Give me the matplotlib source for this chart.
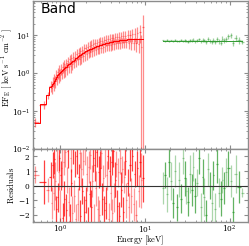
import numpy as np
import matplotlib
matplotlib.use("Agg")
import matplotlib.pyplot as plt
from matplotlib.ticker import LogLocator, MultipleLocator

plt.rcParams['mathtext.fontset'] = 'cm'
plt.rcParams['font.family'] = 'serif'
plt.rcParams['font.serif'] = ['DejaVu Serif']
plt.rcParams['axes.formatter.use_mathtext'] = True

# XRT (red) bins: energy [keV], model, flux, rel. flux error, residual, residual error
red_energy = [0.506, 0.646, 0.72, 0.78, 0.80, 0.82, 0.84, 0.86, 0.88, 0.90,
              0.92, 0.94, 0.96, 0.98, 1.00, 1.02, 1.05, 1.07, 1.10, 1.12,
              1.15, 1.18, 1.21, 1.24, 1.27, 1.30, 1.33, 1.36, 1.40, 1.43,
              1.47, 1.50, 1.54, 1.58, 1.62, 1.66, 1.70, 1.74, 1.78, 1.83,
              1.87, 1.92, 1.97, 2.02, 2.07, 2.12, 2.17, 2.23, 2.28, 2.34,
              2.40, 2.46, 2.52, 2.58, 2.65, 2.71, 2.78, 2.85, 2.92, 3.00,
              3.07, 3.15, 3.23, 3.31, 3.39, 3.48, 3.57, 3.66, 3.75, 3.85,
              3.95, 4.05, 4.15, 4.26, 4.37, 4.48, 4.60, 4.72, 4.85, 4.98,
              5.12, 5.26, 5.41, 5.57, 5.73, 5.90, 6.08, 6.27, 6.47, 6.68,
              6.90, 7.13, 7.37, 7.62, 7.88, 8.15, 8.45, 8.80, 9.10, 9.55]
red_model = [0.05, 0.15, 0.26, 0.42, 0.46, 0.51, 0.56, 0.63, 0.70, 0.77,
             0.85, 0.90, 0.95, 1.00, 1.05, 1.10, 1.17, 1.22, 1.30, 1.35,
             1.42, 1.49, 1.57, 1.64, 1.71, 1.80, 1.88, 1.96, 2.07, 2.16,
             2.27, 2.36, 2.47, 2.59, 2.71, 2.83, 2.95, 3.07, 3.18, 3.31,
             3.41, 3.54, 3.66, 3.78, 3.88, 3.99, 4.10, 4.23, 4.33, 4.45,
             4.56, 4.67, 4.78, 4.88, 5.00, 5.10, 5.21, 5.32, 5.43, 5.55,
             5.64, 5.75, 5.85, 5.95, 6.05, 6.15, 6.25, 6.34, 6.43, 6.52,
             6.61, 6.70, 6.78, 6.86, 6.94, 7.02, 7.10, 7.17, 7.24, 7.31,
             7.38, 7.44, 7.50, 7.56, 7.61, 7.66, 7.71, 7.75, 7.79, 7.82,
             7.85, 7.87, 7.89, 7.90, 7.91, 7.92, 7.92, 7.92, 7.92, 7.92]
red_flux = [0.052, 0.148, 0.26, 0.47, 0.41, 0.60, 0.50, 0.74, 0.62, 0.92,
            0.72, 1.05, 0.80, 1.22, 0.92, 1.30, 1.00, 1.50, 1.12, 1.70,
            1.22, 1.85, 1.35, 2.05, 1.45, 2.30, 1.55, 2.45, 1.72, 2.75,
            1.95, 3.00, 2.10, 3.30, 2.30, 3.45, 2.40, 3.80, 2.60, 4.10,
            2.85, 4.50, 3.00, 4.70, 3.20, 5.00, 3.40, 5.30, 3.60, 5.60,
            3.80, 5.90, 4.00, 6.10, 4.20, 6.40, 4.40, 6.70, 4.60, 7.00,
            4.70, 7.20, 5.00, 7.50, 5.20, 7.70, 5.40, 8.00, 5.50, 8.20,
            5.70, 8.40, 5.80, 8.60, 6.00, 8.80, 6.10, 9.00, 6.30, 9.20,
            6.40, 9.40, 6.50, 9.60, 6.60, 9.80, 6.50, 10.0, 6.40, 10.3,
            6.30, 10.6, 6.20, 11.0, 6.10, 11.5, 6.00, 12.5, 5.00, 17.0]
red_relerr = [0.25, 0.22, 0.20, 0.30, 0.32, 0.30, 0.34, 0.30, 0.33, 0.34,
              0.31, 0.33, 0.30, 0.32, 0.34, 0.31, 0.30, 0.33, 0.32, 0.30,
              0.33, 0.31, 0.34, 0.30, 0.32, 0.30, 0.33, 0.29, 0.31, 0.33,
              0.30, 0.32, 0.30, 0.31, 0.29, 0.33, 0.30, 0.29, 0.32, 0.29,
              0.31, 0.29, 0.30, 0.28, 0.32, 0.29, 0.28, 0.31, 0.28, 0.30,
              0.28, 0.31, 0.28, 0.29, 0.30, 0.27, 0.29, 0.28, 0.31, 0.27,
              0.29, 0.28, 0.30, 0.27, 0.29, 0.31, 0.27, 0.30, 0.28, 0.29,
              0.31, 0.27, 0.30, 0.28, 0.32, 0.29, 0.27, 0.31, 0.29, 0.30,
              0.32, 0.28, 0.31, 0.34, 0.30, 0.33, 0.31, 0.35, 0.32, 0.37,
              0.34, 0.38, 0.36, 0.40, 0.39, 0.44, 0.42, 0.50, 1.00, 1.00]
red_res = [0.75, 0.25, -0.30, 0.6, -1.2, 1.4, -0.5, 1.8, 0.3, -1.6,
           2.1, -0.8, 0.9, 1.9, -1.4, 0.7, 1.2, -2.2, 1.6, -0.9,
           2.3, -1.7, 0.4, 2.4, -1.1, -2.4, 1.9, 0.2, -1.9, 2.5,
           -0.7, 1.5, -2.3, 2.0, -1.3, 0.6, 2.2, -2.1, 1.1, -0.4,
           1.7, -1.8, 2.4, -1.0, 0.8, -2.5, 1.3, -0.6, 2.1, -1.5,
           0.3, 1.9, -2.2, 1.4, -0.2, 2.3, -1.6, 0.9, -2.0, 1.2,
           2.2, -0.9, 0.5, -1.7, 1.8, -1.2, 0.7, 2.0, -2.3, 1.0,
           -0.5, 1.6, -1.9, 2.4, -0.8, 0.4, 1.5, -1.4, 0.9, -2.1,
           1.9, -0.3, 1.1, -1.8, 0.6, 1.7, -1.0, 0.2, -1.5, 1.4,
           -0.7, 2.0, -1.3, 0.8, -2.0, 1.2, -0.4, 1.6, 0.35, 0.5]
red_reserr = [0.6, 1.5, 0.8, 1.0, 1.1, 0.9, 1.2, 1.0, 1.3, 0.9,
              1.1, 1.0, 1.2, 0.9, 1.1, 1.0, 1.3, 1.0, 0.9, 1.2,
              1.0, 1.1, 0.9, 1.2, 1.0, 1.1, 1.0, 0.9, 1.2, 1.0,
              1.1, 0.9, 1.0, 1.2, 1.1, 0.9, 1.0, 1.1, 1.2, 0.9,
              1.0, 1.1, 1.0, 0.9, 1.2, 1.0, 1.1, 0.9, 1.0, 1.2,
              1.1, 1.0, 0.9, 1.1, 1.2, 1.0, 0.9, 1.1, 1.0, 1.2,
              1.0, 1.1, 0.9, 1.0, 1.2, 1.1, 1.0, 0.9, 1.1, 1.0,
              1.2, 0.9, 1.0, 1.1, 1.0, 1.2, 0.9, 1.1, 1.0, 1.0,
              1.1, 1.2, 0.9, 1.0, 1.1, 1.0, 1.2, 0.9, 1.0, 1.1,
              1.2, 1.0, 1.1, 0.9, 1.0, 1.2, 1.1, 1.0, 1.9, 1.6]

# BAT (green) bins
green_energy = [16.5, 17.5, 18.5, 19.5, 20.5, 21.5, 22.7, 24.0, 25.3, 26.7,
                28.0, 29.5, 31.0, 32.5, 34.0, 35.7, 37.5, 39.5, 41.5, 43.5,
                45.7, 48.0, 50.5, 53.0, 55.7, 58.5, 61.5, 64.5, 67.8, 71.0,
                74.5, 78.5, 82.5, 87.0, 92.0, 97.0, 103.0, 110.0, 118.0, 128.0,
                142.0]
green_model = [7.25, 7.24, 7.23, 7.22, 7.21, 7.20, 7.19, 7.18, 7.17, 7.16,
               7.15, 7.14, 7.13, 7.12, 7.11, 7.10, 7.09, 7.08, 7.07, 7.06,
               7.05, 7.04, 7.03, 7.02, 7.01, 7.00, 6.99, 6.98, 6.97, 6.96,
               6.95, 6.94, 6.93, 6.92, 6.91, 6.90, 6.89, 6.88, 6.87, 6.86,
               6.85]
green_flux = [7.3, 7.2, 7.5, 7.1, 7.3, 7.0, 7.4, 6.9, 7.2, 7.6,
              7.0, 7.3, 7.1, 6.8, 7.4, 7.2, 7.7, 7.0, 7.5, 7.8,
              6.9, 7.6, 7.3, 6.7, 7.9, 7.1, 6.8, 7.5, 6.6, 7.8,
              7.0, 6.4, 8.2, 7.3, 7.9, 9.5, 10.0, 6.2, 8.6, 7.4,
              6.6]
green_relerr = [0.05, 0.05, 0.05, 0.05, 0.05, 0.06, 0.06, 0.06, 0.06, 0.07,
                0.07, 0.07, 0.07, 0.08, 0.08, 0.08, 0.08, 0.09, 0.09, 0.09,
                0.10, 0.10, 0.10, 0.11, 0.11, 0.12, 0.12, 0.12, 0.13, 0.13,
                0.14, 0.14, 0.15, 0.15, 0.16, 0.17, 0.17, 0.18, 0.19, 0.20,
                0.12]
green_res = [-0.2, 0.7, -0.6, 1.6, 0.3, -1.2, 1.0, -1.5, 0.4, -0.9,
             1.9, 0.5, -0.4, -1.1, 0.8, -0.3, 1.3, -0.7, 0.2, 1.9,
             -1.5, 0.6, -0.8, -2.0, 1.1, 0.0, -1.2, 0.7, -1.6, 1.5,
             -0.5, -0.9, 0.4, -0.2, 0.9, 1.2, 0.3, -1.8, 0.8, -0.1,
             -0.5]
green_reserr = [1.1, 0.9, 1.2, 1.0, 1.3, 1.0, 1.1, 0.9, 1.2, 1.0,
                1.1, 1.2, 0.9, 1.0, 1.3, 1.1, 1.0, 1.2, 0.9, 1.1,
                1.0, 1.2, 1.3, 1.0, 1.1, 0.9, 1.2, 1.0, 1.1, 1.3,
                1.0, 1.2, 0.9, 1.1, 1.0, 1.2, 1.1, 1.0, 1.3, 1.1,
                0.3]


def bin_halfwidths(e):
    e = np.asarray(e)
    mid = np.sqrt(e[1:] * e[:-1])
    lo = np.concatenate([[e[0] ** 2 / mid[0]], mid])
    hi = np.concatenate([mid, [e[-1] ** 2 / mid[-1]]])
    return np.vstack([e - lo, hi - e])


RED = '#ff0000'
GREEN = '#2f9a2f'
EDGE = '#8c8c8c'

fig = plt.figure(figsize=(2.49, 2.46), dpi=100)
ax1 = fig.add_axes([0.1325, 0.394, 0.8635, 0.602])
ax2 = fig.add_axes([0.1325, 0.0976, 0.8635, 0.2964], sharex=ax1)

for e, m, f, rel, r, re, c in [
        (red_energy, red_model, red_flux, red_relerr, red_res, red_reserr, RED),
        (green_energy, green_model, green_flux, green_relerr, green_res, green_reserr, GREEN)]:
    e = np.asarray(e)
    f = np.asarray(f)
    xe = bin_halfwidths(e)
    ferr = f * np.asarray(rel)
    ax1.errorbar(e, f, yerr=ferr, xerr=xe, fmt='none', ecolor=c,
                 alpha=0.45, elinewidth=0.9)
    ax1.step(e, m, where='mid', color=c, lw=0.7)
    r = np.asarray(r)
    re = np.asarray(re)
    idx = np.arange(len(e))
    for sel, a in [(idx % 2 == 0, 0.4), (idx % 2 == 1, 0.75)]:
        ax2.errorbar(e[sel], r[sel], yerr=re[sel], xerr=xe[:, sel],
                     fmt='none', ecolor=c, alpha=a, elinewidth=0.9)

ax2.axhline(0, color='#333333', lw=0.8)

ax1.set_xscale('log')
ax1.set_yscale('log')
ax1.set_xlim(0.48, 165)
ax1.set_ylim(0.01, 80)
ax2.set_ylim(-2.5, 2.5)
ax2.yaxis.set_major_locator(MultipleLocator(1))
ax2.yaxis.set_minor_locator(MultipleLocator(0.5))
ax1.yaxis.set_major_locator(LogLocator(base=10, numticks=10))

for ax in (ax1, ax2):
    for s in ax.spines.values():
        s.set_color(EDGE)
        s.set_linewidth(1.0)
    ax.tick_params(which='both', direction='in', top=True, right=True,
                   color=EDGE, labelsize=5.3, pad=2)
    ax.tick_params(which='major', length=3)
    ax.tick_params(which='minor', length=1.5)
ax2.tick_params(axis='x', pad=1.2)
plt.setp(ax1.get_xticklabels(), visible=False)

ax1.set_ylabel(r'$\rm EF_E\ [\ keV\ s^{-1}\ cm^{-2}\ ]$', fontsize=6)
ax1.yaxis.set_label_coords(-0.085, 0.55)
ax2.set_ylabel(r'$\rm Residuals$', fontsize=6.2)
ax2.yaxis.set_label_coords(-0.078, 0.5)
ax2.set_xlabel(r'$\rm Energy\ [keV]$', fontsize=6)
ax2.xaxis.set_label_coords(0.5, -0.162)
ax1.text(0.035, 0.995, 'Band', transform=ax1.transAxes, fontsize=10,
         va='top', ha='left', family='DejaVu Sans')

fig.savefig('out.png', dpi=100)
